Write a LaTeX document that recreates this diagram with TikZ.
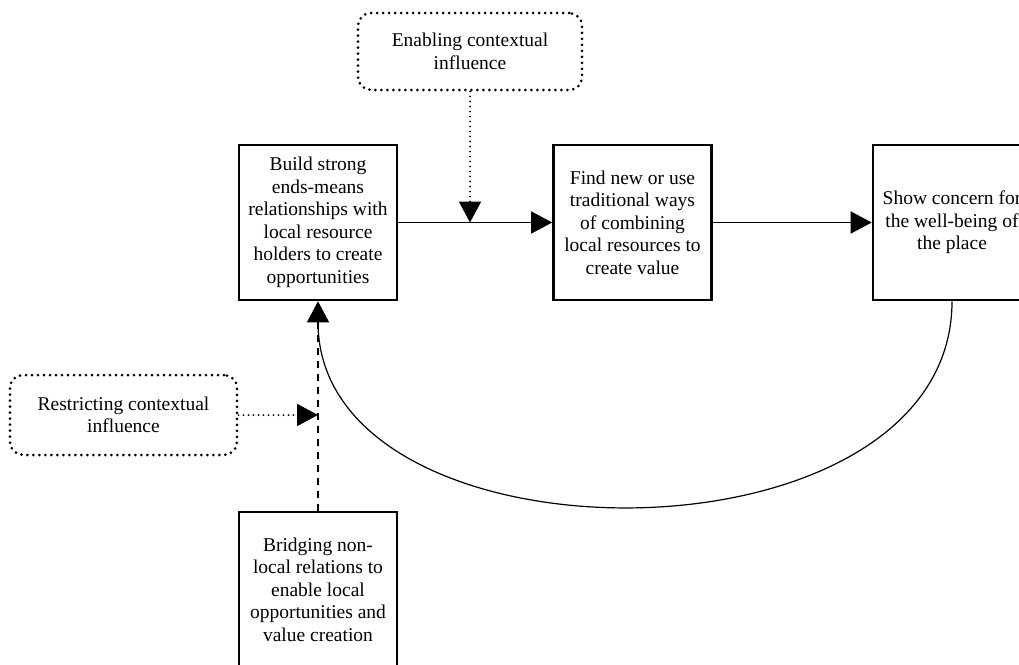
\documentclass[tikz,border=0pt]{standalone}
\usepackage{fontspec}
\setmainfont{Liberation Serif}
\usetikzlibrary{arrows.meta,positioning,calc}

\begin{document}
\begin{tikzpicture}[x=1pt,y=1pt,>={Triangle[length=21pt,width=22pt]},
 font=\fontsize{19.5}{22.5}\selectfont,
 stage/.style={draw, line width=2.6pt, minimum width=158pt, minimum height=155pt, align=center, inner sep=2pt},
 context/.style={draw, line width=3pt, dash pattern=on 0pt off 6pt, line cap=round, rounded corners=13pt, align=center},
 flow/.style={->, line width=1.4pt},
 push/.style={->, line width=2pt, dash pattern=on 0pt off 5pt, line cap=round}]
 \useasboundingbox (0,0) rectangle (1019,-664);
 \node[stage] (build) at (318,-222.5) {Build strong\\ends-means\\relationships with\\local resource\\holders to create\\opportunities};
 \node[stage] (find) at (632.5,-222.5) {Find new or use\\traditional ways\\of combining\\local resources to\\create value};
 \node[stage] (care) at (952,-222.5) {Show concern for\\the well-being of\\the place};
 \node[stage] (bridge) at (318,-589.5) {Bridging non-\\local relations to\\enable local\\opportunities and\\value creation};
 \node[context, minimum width=224pt, minimum height=77pt] (enable) at (470,-51.5) {Enabling contextual\\influence};
 \node[context, minimum width=227pt, minimum height=80pt] (restrict) at (123.5,-415) {Restricting contextual\\influence};
% main loop
 \draw[flow] (build) -- (find);
 \draw[flow] (find) -- (care);
 \draw[flow, line width=1.2pt] (care.south) to[out=-90,in=-90,looseness=1.1] (build.south);
 \draw[line width=1.4pt, dash pattern=on 7pt off 6pt] (bridge.north) -- ($(build.south)+(0,-21)$);
% context
 \draw[push] (enable) -- (enable |- build);
 \draw[push] (restrict) -- (restrict -| bridge);
\end{tikzpicture}
\end{document}
